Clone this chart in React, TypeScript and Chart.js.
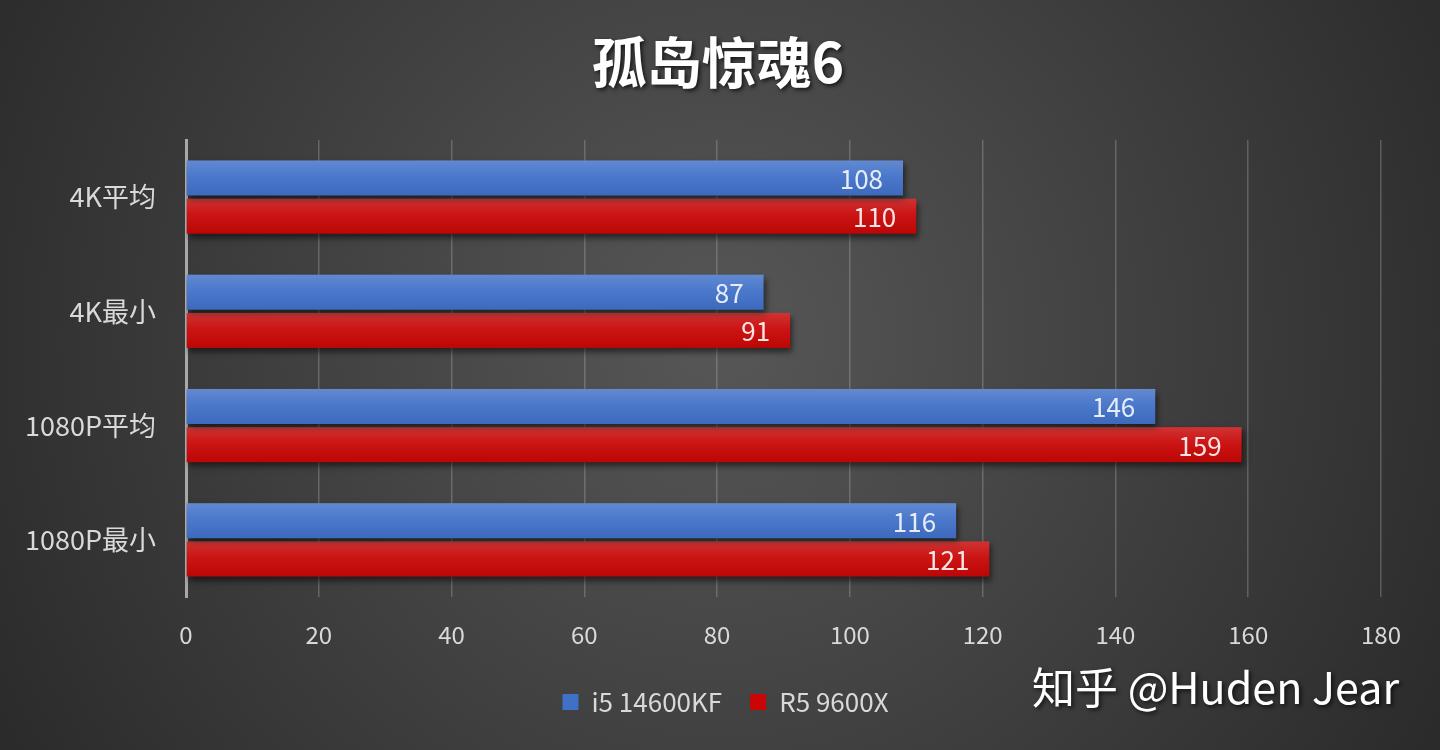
import { useEffect, useRef } from "react";
import { Chart, registerables, Plugin } from "chart.js";

Chart.register(...registerables);

const categories = ["4K平均", "4K最小", "1080P平均", "1080P最小"];
const intelFps = [108, 87, 146, 116];
const amdFps = [110, 91, 159, 121];
const seriesNames = ["i5 14600KF", "R5 9600X"];

const FONT = "'Noto Sans CJK SC', 'Noto Sans', sans-serif";

const backdrop: Plugin = {
  id: "backdrop",
  beforeDraw(chart) {
    const { ctx, width, height } = chart;
    const g = ctx.createRadialGradient(width * 0.5, height * 0.45, 0, width * 0.5, height * 0.45, width * 0.62);
    g.addColorStop(0, "#575757");
    g.addColorStop(1, "#272727");
    ctx.save();
    ctx.fillStyle = g;
    ctx.fillRect(0, 0, width, height);
    ctx.restore();
  },
};

// legend sits centred on the whole picture, not on the padded box
const legendShift: Plugin = {
  id: "legendShift",
  afterLayout(chart) {
    const lg: any = chart.legend;
    if (lg) {
      lg.left += 35;
      lg.right += 35;
    }
  },
};

const barShadow: Plugin = {
  id: "barShadow",
  beforeDatasetsDraw(chart) {
    const ctx = chart.ctx;
    ctx.save();
    ctx.shadowColor = "rgba(0,0,0,0.55)";
    ctx.shadowBlur = 6;
    ctx.shadowOffsetX = 2;
    ctx.shadowOffsetY = 4;
  },
  afterDatasetsDraw(chart) {
    const ctx = chart.ctx;
    ctx.restore();

    // glossy top and value labels
    chart.data.datasets.forEach((ds, di) => {
      const meta = chart.getDatasetMeta(di);
      meta.data.forEach((bar: any, i) => {
        const { x, y, base, height } = bar.getProps(["x", "y", "base", "height"], true);
        const top = y - height / 2;
        const g = ctx.createLinearGradient(0, top, 0, top + height);
        g.addColorStop(0, "rgba(255,255,255,0.18)");
        g.addColorStop(0.45, "rgba(255,255,255,0.06)");
        g.addColorStop(1, "rgba(0,0,0,0.06)");
        ctx.save();
        ctx.fillStyle = g;
        ctx.fillRect(base, top, x - base, height);
        ctx.font = `26px ${FONT}`;
        ctx.fillStyle = di === 0 ? "#e6ecf8" : "#f8e4e4";
        ctx.textAlign = "right";
        ctx.textBaseline = "middle";
        ctx.fillText(String((ds.data as number[])[i]), x - 20, y + 1);
        ctx.restore();
      });
    });
  },
};

const headerAndMark: Plugin = {
  id: "headerAndMark",
  afterDraw(chart) {
    const { ctx } = chart;
    ctx.save();
    ctx.shadowColor = "rgba(0,0,0,0.7)";
    ctx.shadowBlur = 4;
    ctx.shadowOffsetX = 2;
    ctx.shadowOffsetY = 2;
    ctx.fillStyle = "#ffffff";
    ctx.textBaseline = "middle";
    ctx.textAlign = "center";
    ctx.font = `bold 55px ${FONT}`;
    ctx.fillText("孤岛惊魂6", 718, 62);
    ctx.textAlign = "left";
    ctx.font = `43px ${FONT}`;
    ctx.fillText("知乎 @Huden Jear", 1032, 688);
    ctx.restore();
  },
};

export default function App() {
  const canvasRef = useRef<HTMLCanvasElement>(null);
  const chartRef = useRef<Chart | null>(null);

  useEffect(() => {
    if (!canvasRef.current) return;
    if (chartRef.current) chartRef.current.destroy();

    chartRef.current = new Chart(canvasRef.current, {
      type: "bar",
      data: {
        labels: categories,
        datasets: [
          {
            label: seriesNames[0],
            data: intelFps,
            backgroundColor: "#4070c8",
            categoryPercentage: 0.67,
            barPercentage: 0.92,
          },
          {
            label: seriesNames[1],
            data: amdFps,
            backgroundColor: "#c80606",
            categoryPercentage: 0.67,
            barPercentage: 0.92,
          },
        ],
      },
      options: {
        indexAxis: "y",
        animation: false,
        responsive: true,
        maintainAspectRatio: false,
        layout: { padding: { left: 0, right: 59, top: 140, bottom: 25 } },
        scales: {
          x: {
            min: 0,
            max: 180,
            ticks: {
              stepSize: 20,
              color: "#d9d9d9",
              font: { family: FONT, size: 24 },
              padding: 23,
            },
            grid: { color: "rgba(200,200,200,0.28)", lineWidth: 1.5, drawTicks: false },
            border: { display: false },
            afterFit(scale) {
              scale.height = 64;
            },
          },
          y: {
            ticks: {
              color: "#d9d9d9",
              font: { family: FONT, size: 27 },
              padding: 22,
            },
            grid: { display: false },
            border: { display: true, color: "#a8a8a8", width: 3 },
            afterFit(scale) {
              scale.width = 186;
            },
          },
        },
        plugins: {
          title: { display: false },
          tooltip: { enabled: false },
          legend: {
            position: "bottom",
            labels: {
              color: "#d9d9d9",
              font: { family: FONT, size: 26 },
              boxWidth: 16,
              boxHeight: 16,
              padding: 28,
            },
          },
        },
      },
      plugins: [backdrop, legendShift, barShadow, headerAndMark],
    });

    return () => {
      if (chartRef.current) {
        chartRef.current.destroy();
        chartRef.current = null;
      }
    };
  }, []);

  return (
    <div style={{ position: "fixed", left: 0, top: 0, width: 1440, height: 750 }}>
      <canvas ref={canvasRef} />
    </div>
  );
}
